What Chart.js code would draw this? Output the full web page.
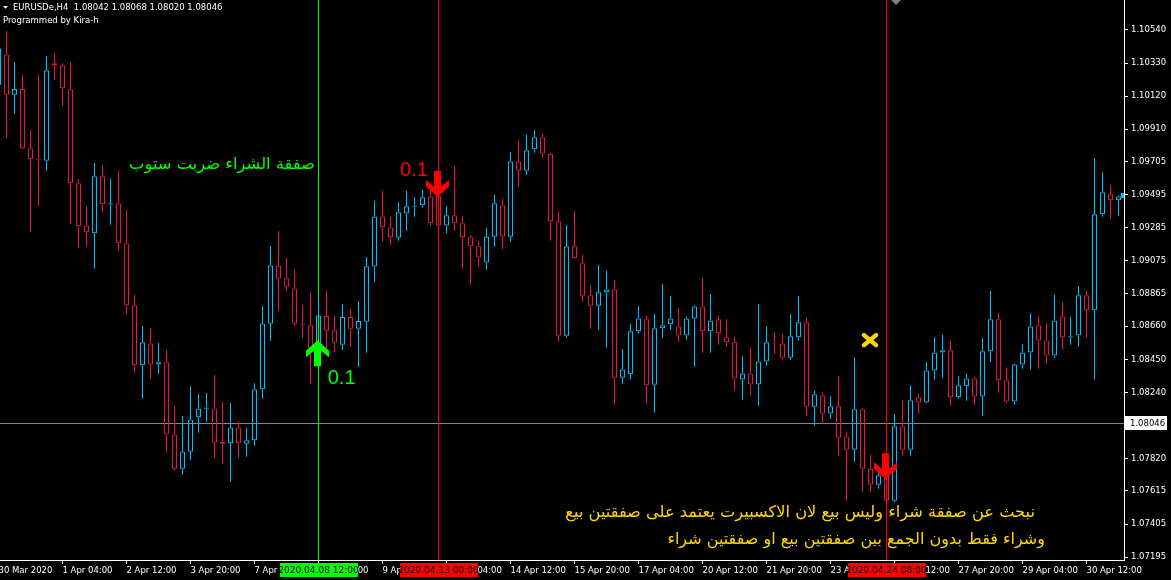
<!DOCTYPE html>
<html>
<head>
<meta charset="utf-8">
<script src="https://cdn.jsdelivr.net/npm/chart.js@4.4.1/dist/chart.umd.min.js"></script>
<style>
html, body { margin: 0; padding: 0; background: #000; }
#wrap { width: 1171px; height: 580px; position: relative; }
</style>
</head>
<body>
<div id="wrap"><canvas id="chart"></canvas></div>
<script>
// EURUSDe H4 — bar numbers start at -1 (partly cut off at the left edge)
const firstBar = -1;

const opens = [1.10191,
  1.10385, 1.10129, 1.10165, 1.09789, 1.09719, 1.09710, 1.10328, 1.10316, 1.10163, 1.09567,
  1.09300, 1.09250, 1.09611, 1.09434, 1.09440, 1.09186, 1.08793, 1.08412, 1.08551, 1.08418,
  1.08431, 1.07974, 1.07756, 1.07864, 1.08082, 1.08136, 1.08139, 1.07927, 1.07917, 1.08018,
  1.07914, 1.07936, 1.08260, 1.08676, 1.09046, 1.08964, 1.08900, 1.08678, 1.08666, 1.08515,
  1.08725, 1.08634, 1.08543, 1.08718, 1.08644, 1.08689, 1.09039, 1.09357, 1.09288, 1.09222,
  1.09376, 1.09418, 1.09427, 1.09484, 1.09486, 1.09300, 1.09364, 1.09313, 1.09224, 1.09167,
  1.09065, 1.09228, 1.09427, 1.09228, 1.09706, 1.09647, 1.09783, 1.09859, 1.09755, 1.09326,
  1.08600, 1.09167, 1.09059, 1.08856, 1.08790, 1.08875, 1.08894, 1.08333, 1.08355, 1.08628,
  1.08704, 1.08289, 1.08647, 1.08672, 1.08659, 1.08602, 1.08710, 1.08786, 1.08628, 1.08704,
  1.08590, 1.08558, 1.08323, 1.08361, 1.08291, 1.08437, 1.08553, 1.08551, 1.08460, 1.08590,
  1.08685, 1.08149, 1.08221, 1.08107, 1.08152, 1.07961, 1.07876, 1.08133, 1.07756, 1.07654,
  1.07714, 1.07553, 1.08025, 1.07876, 1.08209, 1.08177, 1.08380, 1.08494, 1.08507, 1.08209,
  1.08279, 1.08329, 1.08215, 1.08501, 1.08704, 1.08317, 1.08183, 1.08418, 1.08494, 1.08666,
  1.08570, 1.08475, 1.08723, 1.08590, 1.08602, 1.08856, 1.08761, 1.09370, 1.09497, 1.09459];

const highs = [1.10476,
  1.10533, 1.10337, 1.10254, 1.09905, 1.10254, 1.10375, 1.10394, 1.10328, 1.10337, 1.09594,
  1.09423, 1.09696, 1.09683, 1.09594, 1.09645, 1.09397, 1.08858, 1.08661, 1.08647, 1.08553,
  1.08509, 1.08154, 1.08090, 1.08280, 1.08230, 1.08236, 1.08350, 1.08179, 1.08173, 1.08058,
  1.08018, 1.08298, 1.08788, 1.09169, 1.09264, 1.09097, 1.09023, 1.08795, 1.08877, 1.08843,
  1.08883, 1.08727, 1.08801, 1.08769, 1.08820, 1.09099, 1.09456, 1.09520, 1.09357, 1.09450,
  1.09520, 1.09478, 1.09526, 1.09531, 1.09537, 1.09421, 1.09677, 1.09357, 1.09239, 1.09203,
  1.09285, 1.09494, 1.09469, 1.09764, 1.09840, 1.09875, 1.09905, 1.09880, 1.09761, 1.09391,
  1.09302, 1.09391, 1.09112, 1.08920, 1.09048, 1.09010, 1.08953, 1.08515, 1.08674, 1.08788,
  1.08725, 1.08737, 1.08928, 1.08852, 1.08775, 1.08720, 1.08793, 1.08966, 1.08864, 1.08729,
  1.08704, 1.08590, 1.08469, 1.08526, 1.08801, 1.08659, 1.08623, 1.08609, 1.08737, 1.08850,
  1.08716, 1.08253, 1.08240, 1.08217, 1.08342, 1.07993, 1.08463, 1.08141, 1.07843, 1.07746,
  1.07748, 1.08103, 1.08192, 1.08285, 1.08230, 1.08433, 1.08591, 1.08604, 1.08570, 1.08342,
  1.08361, 1.08342, 1.08585, 1.08883, 1.08748, 1.08399, 1.08425, 1.08545, 1.08742, 1.08725,
  1.08680, 1.08858, 1.08812, 1.08718, 1.08915, 1.08881, 1.09727, 1.09637, 1.09556, 1.09491];

const lows = [1.10127,
  1.09856, 1.10008, 1.09784, 1.09260, 1.09423, 1.09647, 1.10222, 1.10059, 1.09307, 1.09158,
  1.09164, 1.09025, 1.09380, 1.09304, 1.09139, 1.08739, 1.08365, 1.08200, 1.08327, 1.08359,
  1.07864, 1.07743, 1.07718, 1.07811, 1.07984, 1.08054, 1.07828, 1.07790, 1.07673, 1.07828,
  1.07832, 1.07902, 1.08200, 1.08568, 1.08758, 1.08885, 1.08663, 1.08587, 1.08295, 1.08496,
  1.08498, 1.08496, 1.08509, 1.08530, 1.08401, 1.08492, 1.08942, 1.09196, 1.09175, 1.09203,
  1.09266, 1.09355, 1.09412, 1.09296, 1.09289, 1.09250, 1.09266, 1.09025, 1.08923, 1.09038,
  1.09019, 1.09164, 1.09148, 1.09196, 1.09545, 1.09619, 1.09761, 1.09729, 1.09203, 1.08562,
  1.08587, 1.09086, 1.08815, 1.08644, 1.08638, 1.08524, 1.08162, 1.08295, 1.08320, 1.08612,
  1.08168, 1.08111, 1.08587, 1.08638, 1.08562, 1.08574, 1.08403, 1.08492, 1.08492, 1.08543,
  1.08532, 1.08251, 1.08194, 1.08219, 1.08155, 1.08409, 1.08484, 1.08447, 1.08447, 1.08568,
  1.08092, 1.08029, 1.08041, 1.08073, 1.07838, 1.07553, 1.07800, 1.07610, 1.07610, 1.07629,
  1.07538, 1.07544, 1.07838, 1.07838, 1.08106, 1.08171, 1.08323, 1.08333, 1.08155, 1.08200,
  1.08187, 1.08162, 1.08092, 1.08435, 1.08238, 1.08171, 1.08162, 1.08390, 1.08384, 1.08390,
  1.08422, 1.08460, 1.08511, 1.08543, 1.08530, 1.08587, 1.08320, 1.09355, 1.09342, 1.09361];

const closes = [1.10424,
  1.10129, 1.10165, 1.09789, 1.09719, 1.09713, 1.10284, 1.10316, 1.10170, 1.09567, 1.09294,
  1.09256, 1.09611, 1.09434, 1.09440, 1.09186, 1.08793, 1.08412, 1.08558, 1.08418, 1.08431,
  1.07974, 1.07756, 1.07866, 1.08069, 1.08139, 1.08145, 1.07921, 1.07914, 1.08018, 1.07917,
  1.07936, 1.08260, 1.08678, 1.09046, 1.08961, 1.08911, 1.08676, 1.08670, 1.08520, 1.08729,
  1.08631, 1.08555, 1.08718, 1.08644, 1.08693, 1.09040, 1.09357, 1.09288, 1.09224, 1.09383,
  1.09421, 1.09425, 1.09478, 1.09313, 1.09300, 1.09364, 1.09313, 1.09224, 1.09167, 1.09097,
  1.09230, 1.09440, 1.09230, 1.09706, 1.09647, 1.09776, 1.09859, 1.09755, 1.09326, 1.08600,
  1.09167, 1.09091, 1.08854, 1.08790, 1.08875, 1.08894, 1.08333, 1.08386, 1.08628, 1.08710,
  1.08285, 1.08647, 1.08666, 1.08710, 1.08602, 1.08710, 1.08786, 1.08628, 1.08697, 1.08615,
  1.08558, 1.08328, 1.08361, 1.08291, 1.08437, 1.08558, 1.08550, 1.08460, 1.08596, 1.08685,
  1.08149, 1.08228, 1.08105, 1.08152, 1.07952, 1.07876, 1.08133, 1.07756, 1.07654, 1.07714,
  1.07553, 1.08025, 1.07876, 1.08190, 1.08176, 1.08380, 1.08494, 1.08507, 1.08209, 1.08285,
  1.08329, 1.08215, 1.08501, 1.08704, 1.08317, 1.08183, 1.08418, 1.08494, 1.08659, 1.08570,
  1.08475, 1.08697, 1.08590, 1.08596, 1.08856, 1.08761, 1.09370, 1.09510, 1.09459, 1.09484];

// axis labels
const priceTicks = [1.10540, 1.10330, 1.10120, 1.09910, 1.09705, 1.09495, 1.09285, 1.09075,
  1.08865, 1.08660, 1.08450, 1.08240, 1.07820, 1.07615, 1.07405, 1.07195];
const timeTickBars = [-1, 7, 15, 23, 31, 39, 47, 55, 63, 71, 79, 87, 95, 103, 111, 119, 127, 135];
const timeLabels = ['30 Mar 2020', '1 Apr 04:00', '2 Apr 12:00', '3 Apr 20:00', '7 Apr 04:00',
  '8 Apr 12:00', '9 Apr 20:00', '13 Apr 04:00', '14 Apr 12:00', '15 Apr 20:00', '17 Apr 04:00',
  '20 Apr 12:00', '21 Apr 20:00', '23 Apr 04:00', '24 Apr 12:00', '27 Apr 20:00', '29 Apr 04:00',
  '30 Apr 12:00'];

// header / current bar
const symbolName = 'EURUSDe,H4';
const lastOHLC = [1.08042, 1.08068, 1.08020, 1.08046];
const bidPrice = 1.08046;

// objects placed on the chart
const vLines = [
  { bar: 39, color: '#00ff00', label: '2020.04.08 12:00' },
  { bar: 54, color: '#ff0000', label: '2020.04.13 00:00' },
  { bar: 110, color: '#ff0000', label: '2020.04.24 08:00' }
];
const arrows = [
  { bar: 39, price: 1.08572, dir: 'up', color: '#00ff00' },
  { bar: 54, price: 1.09480, dir: 'down', color: '#ff0000' },
  { bar: 110, price: 1.07690, dir: 'down', color: '#ff0000' }
];
const lotTexts = [
  { bar: 40.15, price: 1.08331, text: '0.1', color: '#00ff00' },
  { bar: 49.2, price: 1.09651, text: '0.1', color: '#ff0000' }
];
const notes = [
  { bar: 38.56, price: 1.09683, text: 'صفقة الشراء ضربت ستوب', color: '#00ff00', width: 186 },
  { bar: 128.56, price: 1.07474, text: 'نبحث عن صفقة شراء وليس بيع لان الاكسبيرت يعتمد على صفقتين بيع', color: '#ffd700', width: 470 },
  { bar: 129.81, price: 1.07303, text: 'وشراء فقط بدون الجمع بين صفقتين بيع او صفقتين شراء', color: '#ffd700', width: 378 }
];
const crossMark = { bar: 107.94, price: 1.08572 };

const BULL = '#00bfff';
const BEAR = '#e8173f';
const AXIS_FONT = { family: 'DejaVu Sans', size: 8.5 };

const bars = opens.map((o, i) => firstBar + i);
const candleColors = closes.map((c, i) => c >= opens[i] ? BULL : BEAR);
const bodies = bars.map((b, i) => ({ x: b, y: [opens[i], closes[i]] }));
const upperWicks = bars.map((b, i) => ({ x: b, y: [Math.max(opens[i], closes[i]), highs[i]] }));
const lowerWicks = bars.map((b, i) => ({ x: b, y: [lows[i], Math.min(opens[i], closes[i])] }));

function drawArrow(ctx, cx, tipY, dir, color) {
    const s = dir === 'up' ? 1 : -1;
    const pts = [[0, 0], [11.5, 10.5], [11.5, 17], [3.5, 10.5], [3.5, 26], [-3.5, 26], [-3.5, 10.5], [-11.5, 17], [-11.5, 10.5]];
    ctx.beginPath();
    pts.forEach(([dx, dy], i) => {
        const px = cx + dx, py = tipY + s * dy;
        if (i) ctx.lineTo(px, py); else ctx.moveTo(px, py);
    });
    ctx.closePath();
    ctx.fillStyle = color;
    ctx.fill();
}

const overlay = {
    id: 'overlay',
    beforeDatasetsDraw(chart) {
        const { ctx, chartArea: a, scales: { x, y } } = chart;
        ctx.save();
        ctx.lineWidth = 1;
        // bid line
        const by = Math.round(y.getPixelForValue(bidPrice)) + 0.5;
        ctx.strokeStyle = '#778899';
        ctx.beginPath(); ctx.moveTo(a.left, by); ctx.lineTo(a.right, by); ctx.stroke();
        // vertical lines
        vLines.forEach(l => {
            const px = Math.floor(x.getPixelForValue(l.bar)) + 0.5;
            ctx.strokeStyle = l.color;
            ctx.beginPath(); ctx.moveTo(px, a.top); ctx.lineTo(px, a.bottom); ctx.stroke();
        });
        ctx.restore();
    },
    afterDatasetsDraw(chart) {
        const { ctx, chartArea: a, scales: { x, y } } = chart;
        ctx.save();
        // arrows
        arrows.forEach(ar => drawArrow(ctx, x.getPixelForValue(ar.bar) - 1, y.getPixelForValue(ar.price), ar.dir, ar.color));
        // lot size labels
        ctx.textBaseline = 'middle';
        ctx.textAlign = 'left';
        ctx.font = '20px "Liberation Sans"';
        lotTexts.forEach(t => {
            ctx.fillStyle = t.color;
            ctx.fillText(t.text, x.getPixelForValue(t.bar), y.getPixelForValue(t.price));
        });
        // arabic notes, sized to the width they take in the picture
        ctx.textAlign = 'right';
        notes.forEach(n => {
            ctx.font = '20px "DejaVu Sans"';
            const w = ctx.measureText(n.text).width;
            const size = 20 * n.width / w;
            ctx.font = size.toFixed(2) + 'px "DejaVu Sans"';
            ctx.fillStyle = n.color;
            ctx.fillText(n.text, x.getPixelForValue(n.bar), y.getPixelForValue(n.price));
        });
        // yellow cross
        const cx = x.getPixelForValue(crossMark.bar), cy = y.getPixelForValue(crossMark.price);
        ctx.strokeStyle = '#ffd700';
        ctx.lineWidth = 4.5;
        ctx.lineCap = 'round';
        ctx.beginPath();
        ctx.moveTo(cx - 6, cy - 5); ctx.lineTo(cx + 6, cy + 5);
        ctx.moveTo(cx + 6, cy - 5); ctx.lineTo(cx - 6, cy + 5);
        ctx.stroke();

        // date boxes on the time axis
        ctx.font = '9px "DejaVu Sans"';
        ctx.textAlign = 'center';
        vLines.forEach(l => {
            const px = Math.floor(x.getPixelForValue(l.bar)) + 0.5;
            ctx.fillStyle = l.color;
            ctx.fillRect(Math.round(px - 39), a.bottom + 3, 78, 14);
            ctx.fillStyle = '#000';
            ctx.fillText(l.label, px, a.bottom + 10.5);
        });
        // bid price box on the price axis
        ctx.font = '8.5px "DejaVu Sans"';
        const by = Math.round(y.getPixelForValue(bidPrice));
        ctx.fillStyle = '#fff';
        ctx.fillRect(a.right + 1, by - 7, 42, 14);
        ctx.fillStyle = '#000';
        ctx.textAlign = 'left';
        ctx.fillText(bidPrice.toFixed(5), a.right + 6, by + 0.5);
        // last close marker
        const lc = Math.round(y.getPixelForValue(closes[closes.length - 1]));
        ctx.fillStyle = BULL;
        ctx.fillRect(a.right - 3, lc - 3, 3, 5);
        // chart shift marker
        ctx.fillStyle = '#808080';
        ctx.beginPath();
        ctx.moveTo(891, 0); ctx.lineTo(896, 5); ctx.lineTo(901, 0); ctx.closePath();
        ctx.fill();

        // header
        ctx.fillStyle = '#fff';
        ctx.beginPath();
        ctx.moveTo(3, 6); ctx.lineTo(8, 6); ctx.lineTo(5.5, 8.8); ctx.closePath();
        ctx.fill();
        ctx.fillText(symbolName + '  ' + lastOHLC.map(v => v.toFixed(5)).join(' '), 13, 7.5);
        ctx.fillText('Programmed by Kira-h', 3, 20.5);
        ctx.restore();
    }
};

const wickStyle = {
    type: 'bar', backgroundColor: candleColors, borderWidth: 0, barThickness: 1,
    grouped: false, inflateAmount: 0, order: 2
};

new Chart(document.getElementById('chart'), {
    type: 'bar',
    data: {
        datasets: [
            Object.assign({ data: upperWicks }, wickStyle),
            Object.assign({ data: lowerWicks }, wickStyle),
            {
                type: 'bar', data: bodies, backgroundColor: 'rgba(0,0,0,0)', borderColor: candleColors,
                borderWidth: 1, borderSkipped: false, barThickness: 5, grouped: false,
                inflateAmount: 0, order: 1
            }
        ]
    },
    options: {
        responsive: true,
        maintainAspectRatio: false,
        animation: false,
        events: [],
        layout: { padding: 0 },
        plugins: { legend: { display: false }, tooltip: { enabled: false } },
        scales: {
            x: {
                type: 'linear', position: 'bottom', min: -0.8125, max: 139.6875, offset: false,
                afterBuildTicks: s => { s.ticks = timeTickBars.map(v => ({ value: v })); },
                afterFit: s => { s.height = 20; s.paddingLeft = 0; s.paddingRight = 0; },
                ticks: {
                    autoSkip: false, maxRotation: 0, minRotation: 0, align: 'start', padding: 2,
                    color: '#fff', font: AXIS_FONT,
                    callback: (v, i) => timeLabels[i]
                },
                grid: { offset: false, drawOnChartArea: false, drawTicks: true, tickLength: 4, color: '#fff' },
                border: { display: true, color: '#fff', width: 1 }
            },
            y: {
                type: 'linear', position: 'right', min: 1.07177, max: 1.10730, beginAtZero: false,
                afterBuildTicks: s => { s.ticks = priceTicks.map(v => ({ value: v })); },
                afterFit: s => { s.width = 47; s.paddingTop = 0; s.paddingBottom = 0; },
                ticks: {
                    autoSkip: false, padding: 3, color: '#fff', font: AXIS_FONT,
                    callback: v => v.toFixed(5)
                },
                grid: { drawOnChartArea: false, drawTicks: true, tickLength: 4, color: '#fff' },
                border: { display: true, color: '#fff', width: 1 }
            }
        }
    },
    plugins: [overlay]
});
</script>
</body>
</html>
